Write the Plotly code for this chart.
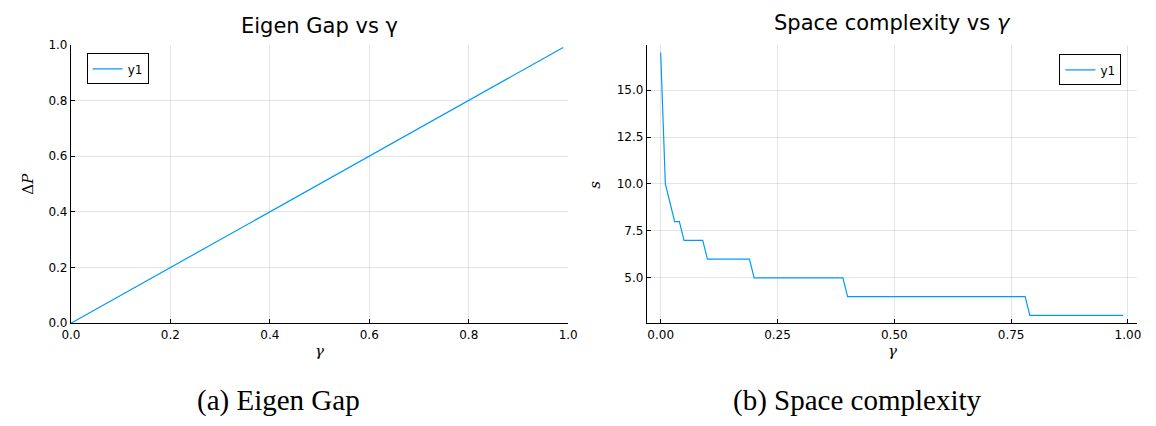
import plotly.graph_objects as go

# ---- data ----
gamma_a = [0.0, 0.99]
gap_a = [0.0, 0.99]

gamma_b = [0.0, 0.01, 0.02, 0.03, 0.04, 0.05, 0.09, 0.10, 0.19, 0.20, 0.39, 0.40, 0.78, 0.79, 0.99]
space_b = [17, 10, 9, 8, 8, 7, 7, 6, 6, 5, 5, 4, 4, 3, 3]

ticks_a = [0.0, 0.2, 0.4, 0.6, 0.8, 1.0]
ticks_bx = [0.0, 0.25, 0.5, 0.75, 1.0]
ticks_by = [5.0, 7.5, 10.0, 12.5, 15.0]

BLUE = "#009AFA"
W, H = 1156, 426

def px_x(p):
    return p / W

def px_y(p):
    return 1 - p / H

fig = go.Figure()
fig.add_trace(go.Scatter(x=gamma_a, y=gap_a, mode="lines", name="y1", showlegend=True,
                         line=dict(color=BLUE, width=1.2), xaxis="x", yaxis="y",
                         legend="legend"))
fig.add_trace(go.Scatter(x=gamma_b, y=space_b, mode="lines", name="y1", showlegend=True,
                         line=dict(color=BLUE, width=1.2), xaxis="x2", yaxis="y2",
                         legend="legend2"))

tickfont = dict(family="DejaVu Sans", size=12, color="black")
grid = "rgba(0,0,0,0.1)"
common = dict(showline=True, linecolor="black", linewidth=1, ticks="inside",
              ticklen=4, tickcolor="black", tickfont=tickfont, showgrid=True,
              gridcolor=grid, gridwidth=1, zeroline=False, mirror=False)

legfont = dict(family="DejaVu Sans", size=12, color="black")
fig.update_layout(
    width=W, height=H, margin=dict(l=0, r=0, t=0, b=0),
    paper_bgcolor="white", plot_bgcolor="white", showlegend=True,
    xaxis=dict(domain=[px_x(62), px_x(568)], range=[0, 1], tickvals=ticks_a,
               tickformat=".1f", anchor="y", **common),
    yaxis=dict(domain=[px_y(327), px_y(39)], range=[0, 1], tickvals=ticks_a,
               tickformat=".1f", anchor="x", **common),
    xaxis2=dict(domain=[px_x(648), px_x(1147)], range=[-0.0297, 1.0197], tickvals=ticks_bx,
                tickformat=".2f", anchor="y2", **common),
    yaxis2=dict(domain=[px_y(327), px_y(39)], range=[2.58, 17.42], tickvals=ticks_by,
                tickformat=".1f", anchor="x2", **common),
    legend=dict(x=px_x(78), y=px_y(48), xanchor="left", yanchor="top", visible=True,
                bordercolor="black", borderwidth=1, bgcolor="white",
                font=legfont, itemwidth=30),
    legend2=dict(x=px_x(1131), y=px_y(49), xanchor="right", yanchor="top", visible=True,
                 bordercolor="black", borderwidth=1, bgcolor="white",
                 font=legfont, itemwidth=30),
)

serif = "DejaVu Serif"
ann = [
    dict(text="Eigen Gap vs γ", x=px_x(315), y=px_y(20), font=dict(family="DejaVu Sans", size=21, color="black")),
    dict(text="Space complexity vs <i>γ</i>", x=px_x(898), y=px_y(17), font=dict(family="DejaVu Sans", size=21, color="black")),
    dict(text="<i>γ</i>", x=px_x(315), y=px_y(356), font=dict(family=serif, size=15, color="black")),
    dict(text="<i>γ</i>", x=px_x(898), y=px_y(356), font=dict(family=serif, size=15, color="black")),
    dict(text="Δ<i>P</i>", x=px_x(18), y=px_y(183), textangle=-90, font=dict(family=serif, size=15, color="black")),
    dict(text="<i>s</i>", x=px_x(595), y=px_y(184), textangle=-90, font=dict(family=serif, size=15, color="black")),
    dict(text="(a) Eigen Gap", x=px_x(273), y=px_y(407), font=dict(family="Liberation Serif", size=29, color="black")),
    dict(text="(b) Space complexity", x=px_x(862), y=px_y(407), font=dict(family="Liberation Serif", size=29, color="black")),
]
for a in ann:
    a.update(xref="paper", yref="paper", showarrow=False, xanchor="center", yanchor="middle")
fig.update_layout(annotations=ann)

fig.write_html("out.html")
